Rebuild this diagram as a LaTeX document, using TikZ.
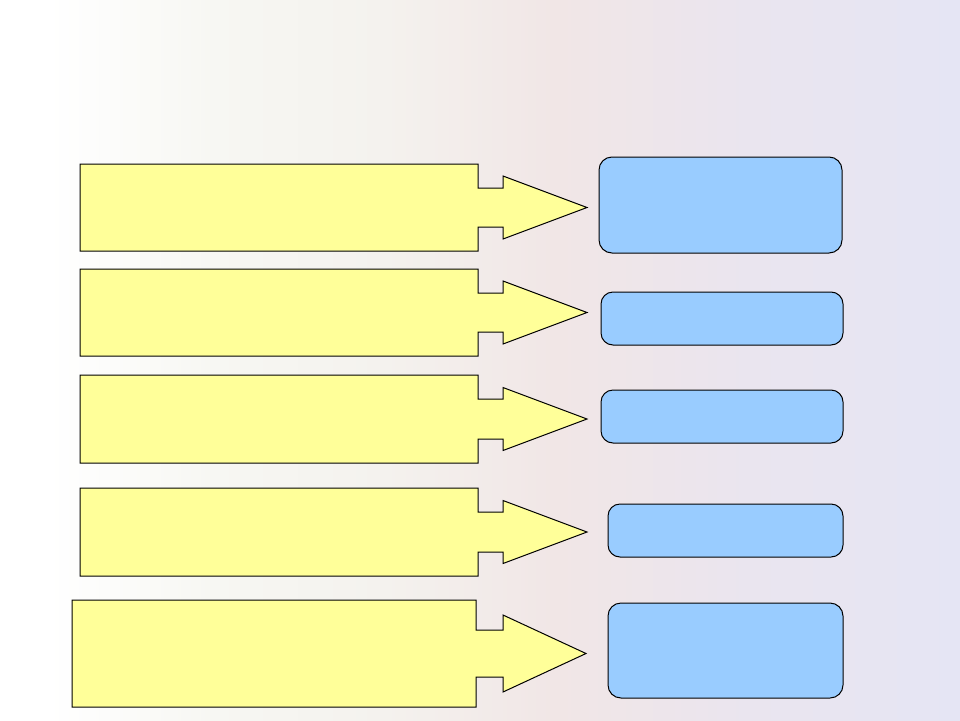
\documentclass[tikz,border=0pt]{standalone}
\definecolor{bgA}{HTML}{FFFFFF}
\definecolor{bgB}{HTML}{F7F7F3}
\definecolor{bgC}{HTML}{F4F2EE}
\definecolor{bgD}{HTML}{F1E6E6}
\definecolor{bgE}{HTML}{EAE5EF}
\definecolor{bgF}{HTML}{E5E5F4}
\definecolor{yfill}{HTML}{FFFF99}
\definecolor{bfill}{HTML}{99CCFF}
\pgfdeclarehorizontalshading{bgshade}{100bp}{color(0bp)=(bgA); color(27.5bp)=(bgA); color(36bp)=(bgB); color(45bp)=(bgC); color(54bp)=(bgD); color(64bp)=(bgE); color(75bp)=(bgF); color(100bp)=(bgF)}
\tikzset{
  yshape/.style={fill=yfill, draw=black, line width=1pt, line join=miter},
  bluebox/.style={fill=bfill, draw=black, line width=1pt, rounded corners=13pt, inner sep=0pt},
}
% \ycall{left}{top}{right}{bottom}{notchhalf}{headhalf}{tipx}
\newcommand{\ycall}[7]{%
  \pgfmathsetmacro{\cy}{(#2+#4)/2}%
  \draw[yshape] (#1,#2) -- (#3,#2) -- (#3,\cy-#5) -- (503,\cy-#5) -- (503,\cy-#6)
    -- (#7,\cy) -- (503,\cy+#6) -- (503,\cy+#5) -- (#3,\cy+#5) -- (#3,#4) -- (#1,#4) -- cycle;}
\begin{document}
\begin{tikzpicture}[x=1pt,y=-1pt]
\useasboundingbox (0,0) rectangle (960,720);
\shade[shading=bgshade] (0,0) rectangle (960,720);

\ycall{80}{164}{478}{251}{19.5}{31.5}{587}
\coordinate (y1) at (279,207.5);
\ycall{80}{269}{478}{356}{19.5}{31.5}{587}
\coordinate (y2) at (279,312.5);
\ycall{80}{375}{478}{463}{20}{31.5}{587}
\coordinate (y3) at (279,419);
\ycall{80}{488}{478}{576}{20}{31.5}{587}
\coordinate (y4) at (279,532);
\ycall{72}{600}{476}{707}{23.5}{38.5}{586}
\coordinate (y5) at (274,653.5);

\node[bluebox, minimum width=243pt, minimum height=96pt] (b1) at (720.5,205) {};
\node[bluebox, minimum width=242pt, minimum height=53pt, rounded corners=12pt] (b2) at (722,318.5) {};
\node[bluebox, minimum width=242pt, minimum height=53pt, rounded corners=12pt] (b3) at (722,416.5) {};
\node[bluebox, minimum width=235pt, minimum height=53pt, rounded corners=12pt] (b4) at (725.5,530.5) {};
\node[bluebox, minimum width=235pt, minimum height=95pt] (b5) at (725.5,650.5) {};
\end{tikzpicture}
\end{document}
